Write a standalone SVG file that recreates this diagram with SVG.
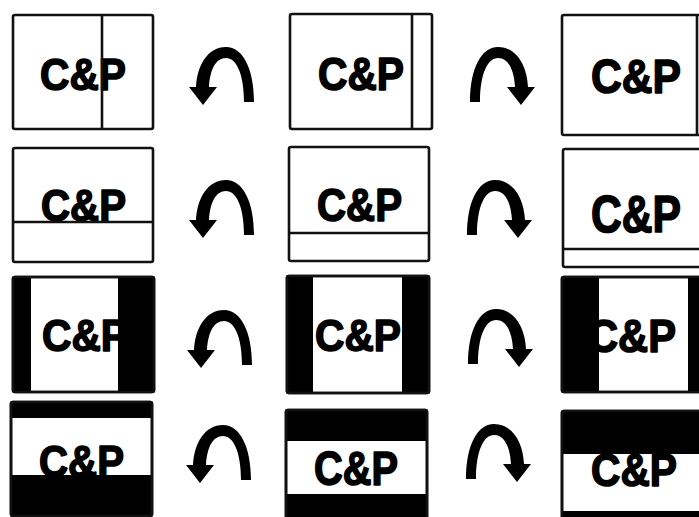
<svg xmlns="http://www.w3.org/2000/svg" xmlns:xlink="http://www.w3.org/1999/xlink" width="699" height="517" viewBox="0 0 699 517">
<style>
.bx{fill:#fff;stroke:#111;stroke-width:2.6}
.ln{stroke:#111;stroke-width:2.6;fill:none}
.bk{fill:#000}
.t{font-family:"Liberation Sans",Arial,sans-serif;font-weight:bold;fill:#000;stroke:#000;stroke-width:1.6;stroke-linejoin:round}
.frame{fill:none;stroke:#111;stroke-width:2.6}
</style>
<defs>
<path id="arc" d="M 64 55 C 64 22 53 0 36 0 C 18 0 7 18 6 40 L -1 40 L 13 58 L 27 40 L 19 40 C 20 22 26 11 36 11 C 46 11 54 26 54 55 Z" fill="#000"/>
</defs>
<rect width="699" height="517" fill="#fff"/>

<g id="box1">
<rect class="bx" x="13" y="15" width="140" height="114" rx="2"/>
<text class="t" x="40" y="90" font-size="45" textLength="86" lengthAdjust="spacingAndGlyphs">C&amp;P</text>
<line class="ln" x1="102" y1="15" x2="102" y2="129"/>
</g>
<g id="box2">
<rect class="bx" x="290" y="14" width="142" height="115" rx="2"/>
<text class="t" x="318" y="90" font-size="46" textLength="86" lengthAdjust="spacingAndGlyphs">C&amp;P</text>
<line class="ln" x1="412" y1="14" x2="412" y2="129"/>
</g>
<g id="box3">
<rect class="bx" x="562" y="15" width="150" height="120" rx="2"/>
<text class="t" x="591" y="93" font-size="49" textLength="90" lengthAdjust="spacingAndGlyphs">C&amp;P</text>
<line class="ln" x1="697" y1="15" x2="697" y2="135"/>
</g>

<g id="box4">
<rect class="bx" x="13" y="148" width="140" height="114" rx="2"/>
<text class="t" x="41" y="221" font-size="44" textLength="85" lengthAdjust="spacingAndGlyphs">C&amp;P</text>
<line class="ln" x1="13" y1="222" x2="153" y2="222"/>
</g>
<g id="box5">
<rect class="bx" x="289" y="147" width="140" height="114" rx="2"/>
<text class="t" x="317" y="221" font-size="46" textLength="85" lengthAdjust="spacingAndGlyphs">C&amp;P</text>
<line class="ln" x1="289" y1="233" x2="429" y2="233"/>
</g>
<g id="box6">
<rect class="bx" x="563" y="149" width="150" height="118" rx="2"/>
<text class="t" x="591" y="232" font-size="51" textLength="90" lengthAdjust="spacingAndGlyphs">C&amp;P</text>
<line class="ln" x1="563" y1="249" x2="713" y2="249"/>
</g>

<g id="box7">
<rect class="bx" x="13" y="277" width="141" height="115" rx="2"/>
<text class="t" x="42" y="351" font-size="45" textLength="86" lengthAdjust="spacingAndGlyphs">C&amp;P</text>
<rect class="bk" x="13" y="277" width="18" height="115"/>
<rect class="bk" x="118" y="277" width="36" height="115"/>
<rect class="frame" x="13" y="277" width="141" height="115" rx="2"/>
</g>
<g id="box8">
<rect class="bx" x="287" y="276" width="142" height="117" rx="2"/>
<text class="t" x="315" y="351" font-size="45" textLength="86" lengthAdjust="spacingAndGlyphs">C&amp;P</text>
<rect class="bk" x="287" y="276" width="26" height="117"/>
<rect class="bk" x="402" y="276" width="27" height="117"/>
<rect class="frame" x="287" y="276" width="142" height="117" rx="2"/>
</g>
<g id="box9">
<rect class="bx" x="562" y="277" width="150" height="115" rx="2"/>
<text class="t" x="588" y="352" font-size="46" textLength="88" lengthAdjust="spacingAndGlyphs">C&amp;P</text>
<rect class="bk" x="562" y="277" width="37" height="115"/>
<rect class="bk" x="688" y="277" width="24" height="115"/>
<rect class="frame" x="562" y="277" width="150" height="115" rx="2"/>
</g>

<g id="box10">
<rect class="bx" x="11" y="402" width="141" height="114" rx="2"/>
<text class="t" x="39" y="477" font-size="45" textLength="85" lengthAdjust="spacingAndGlyphs">C&amp;P</text>
<rect class="bk" x="11" y="402" width="141" height="16"/>
<rect class="bk" x="11" y="475" width="141" height="41"/>
<rect class="frame" x="11" y="402" width="141" height="114" rx="2"/>
</g>
<g id="box11">
<rect class="bx" x="286" y="410" width="141" height="117" rx="2"/>
<text class="t" x="314" y="485" font-size="48" textLength="84" lengthAdjust="spacingAndGlyphs">C&amp;P</text>
<rect class="bk" x="286" y="410" width="141" height="31"/>
<rect class="bk" x="286" y="494" width="141" height="33"/>
<rect class="frame" x="286" y="410" width="141" height="117" rx="2"/>
</g>
<g id="box12">
<rect class="bx" x="562" y="411" width="150" height="116" rx="2"/>
<text class="t" x="591" y="486" font-size="47" textLength="86" lengthAdjust="spacingAndGlyphs">C&amp;P</text>
<rect class="bk" x="562" y="411" width="150" height="43"/>
<rect class="bk" x="562" y="511" width="150" height="16"/>
<rect class="frame" x="562" y="411" width="150" height="116" rx="2"/>
</g>

<g id="connectors">
<use xlink:href="#arc" href="#arc" transform="translate(190,47)"/>
<use xlink:href="#arc" href="#arc" transform="translate(534,47) scale(-1,1)"/>
<use xlink:href="#arc" href="#arc" transform="translate(190,180)"/>
<use xlink:href="#arc" href="#arc" transform="translate(531,180) scale(-1,1)"/>
<use xlink:href="#arc" href="#arc" transform="translate(188,310)"/>
<use xlink:href="#arc" href="#arc" transform="translate(532,309) scale(-1,1)"/>
<use xlink:href="#arc" href="#arc" transform="translate(187,425)"/>
<use xlink:href="#arc" href="#arc" transform="translate(530,424) scale(-1,1)"/>
</g>
</svg>
